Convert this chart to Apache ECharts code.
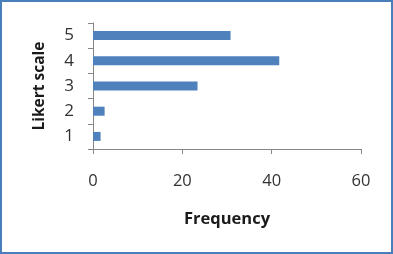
<!DOCTYPE html>
<html><head><meta charset="utf-8">
<script src="https://cdn.jsdelivr.net/npm/echarts@6/dist/echarts.min.js"></script>
<style>
html,body{margin:0;padding:0;background:#fff;}
#frame{position:absolute;left:0;top:0;width:389px;height:250px;border:2px solid #4A7EBB;background:#fff;}
#c{position:absolute;left:-2px;top:-2px;width:393px;height:254px;}
</style></head>
<body><div id="frame"><div id="c"></div></div>
<script>
const categories = ['1','2','3','4','5'];
const frequency = [1.7, 2.6, 23.4, 41.7, 30.8];
const xTicks = { min: 0, max: 60, interval: 20 };

const font = '"Open Sans", "Noto Sans", sans-serif';
const chart = echarts.init(document.getElementById('c'), null, {renderer:'canvas'});
chart.setOption({
  animation: false,
  grid: { left: 93, right: 32, top: 23, bottom: 105 },
  xAxis: {
    type: 'value', min: xTicks.min, max: xTicks.max, interval: xTicks.interval,
    name: 'Frequency', nameLocation: 'middle', nameGap: 62,
    nameTextStyle: { fontFamily: font, fontSize: 16.5, fontWeight: 'bold', color: '#1a1a1a' },
    axisLine: { show: true, lineStyle: { color: '#868686', width: 1 } },
    axisTick: { show: true, length: 5, lineStyle: { color: '#868686' } },
    splitLine: { show: false },
    axisLabel: { fontFamily: font, fontSize: 16.5, color: '#333', margin: 24 }
  },
  yAxis: {
    type: 'category', data: categories,
    name: 'Likert scale', nameLocation: 'middle', nameGap: 45, nameRotate: 90,
    nameTextStyle: { fontFamily: font, fontSize: 15.5, fontWeight: 'bold', color: '#1a1a1a' },
    axisLine: { show: true, lineStyle: { color: '#868686', width: 1 } },
    axisTick: { show: true, length: 5, alignWithLabel: false, lineStyle: { color: '#868686' } },
    axisLabel: { fontFamily: font, fontSize: 17, color: '#333', margin: 19 }
  },
  series: [{
    type: 'bar', data: frequency, barWidth: 9,
    itemStyle: { color: '#4F81BD' }
  }]
});
</script></body></html>
